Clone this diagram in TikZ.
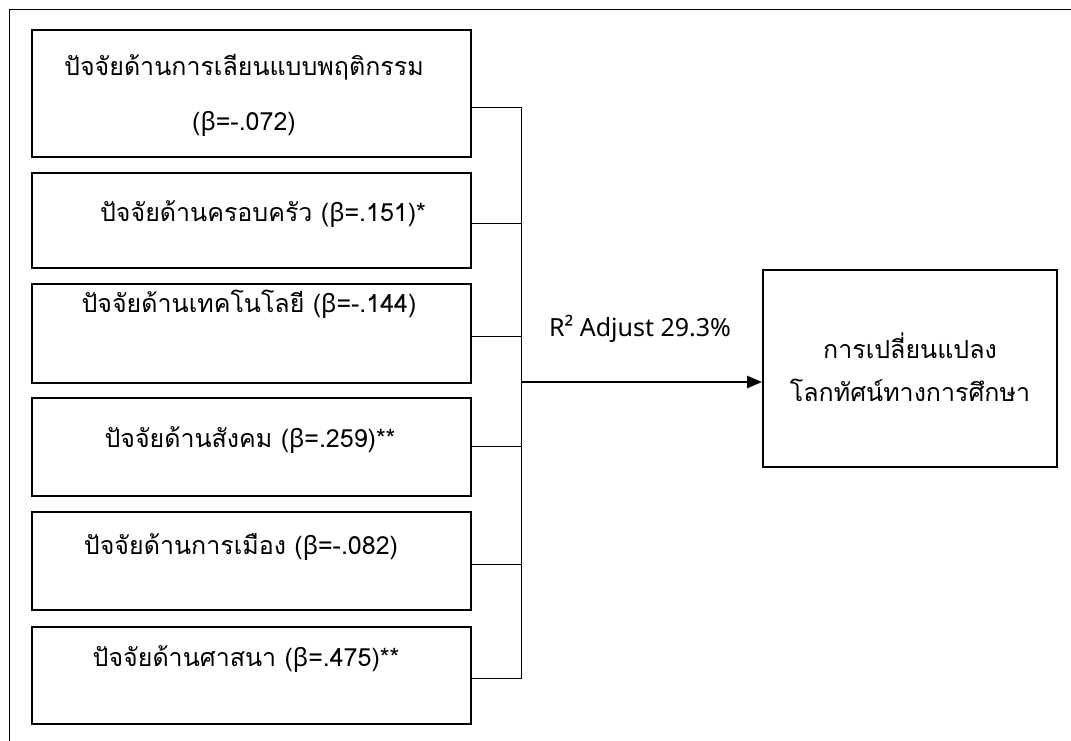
\documentclass[tikz,border=0pt]{standalone}
\usepackage{fontspec}
\setmainfont[Script=Thai]{Loma}
\newfontfamily\grk{Noto Sans}
\newfontfamily\lat{Noto Sans}
\usetikzlibrary{arrows.meta}
\newcommand{\bt}{{\grk β}}
\begin{document}
\begin{tikzpicture}[x=1pt,y=-1pt,
  factorbox/.style={draw=black, line width=1.8pt, inner sep=0pt},
  lbl/.style={inner sep=0pt, font=\fontsize{25}{30}\selectfont, text=black},
  thin/.style={draw=black, line width=1pt},
  arr/.style={draw=black, line width=2.2pt, -{Triangle[length=15pt,width=12pt]}}]
\useasboundingbox (0,0) rectangle (1071,741);
\fill[white] (0,0) rectangle (1071,741);
% outer frame (top and left only)
\draw[line width=1pt] (1071,10) -- (9.5,10) -- (9.5,741);
% factor boxes
\node[factorbox, minimum width=439pt, minimum height=127pt] (b1) at (251.5,93.5) {};
\node[factorbox, minimum width=439pt, minimum height=95pt] (b2) at (251.5,220.5) {};
\node[factorbox, minimum width=439pt, minimum height=99pt] (b3) at (251.5,333.5) {};
\node[factorbox, minimum width=439pt, minimum height=98pt] (b4) at (251.5,447) {};
\node[factorbox, minimum width=439pt, minimum height=98pt] (b5) at (251.5,561) {};
\node[factorbox, minimum width=439pt, minimum height=97pt] (b6) at (251.5,675.5) {};
% texts
\node[lbl] (t1a) at (244,67) {ปัจจัยด้านการเลียนแบบพฤติกรรม};
\node[lbl] (t1b) at (244,124) {(\bt=-.072)};
\node[lbl] (t2) at (263,214) {ปัจจัยด้านครอบครัว (\bt=.151)*};
\node[lbl] (t3) at (249,304) {ปัจจัยด้านเทคโนโลยี (\bt=-.144)};
\node[lbl] (t4) at (250,440) {ปัจจัยด้านสังคม (\bt=.259)**};
\node[lbl] (t5) at (241,547) {ปัจจัยด้านการเมือง (\bt=-.082)};
\node[lbl] (t6) at (246,659) {ปัจจัยด้านศาสนา (\bt=.475)**};
% target box
\node[factorbox, minimum width=294pt, minimum height=197pt] (out) at (910,368.5) {};
\node[lbl] (o1) at (910,346) {การเปลี่ยนแปลง};
\node[lbl] (o2) at (910,390) {โลกทัศน์ทางการศึกษา};
% connectors
\coordinate (top) at (521,108);
\coordinate (bot) at (521,678);
\coordinate (mid) at (521,382);
\draw[thin] (b1.east |- top) -- (top) -- (bot) -- (b6.east |- bot);
\draw[thin] (b2.east |- 0,223) -- (521,223);
\draw[thin] (b3.east |- 0,336) -- (521,336);
\draw[thin] (b4.east |- 0,446) -- (521,446);
\draw[thin] (b5.east |- 0,564) -- (521,564);
\draw[arr] (mid) -- (out.west |- mid);
\node[lbl, font=\lat\fontsize{25}{30}\selectfont] (r2) at (640,329) {R² Adjust 29.3\%};
\end{tikzpicture}
\end{document}
